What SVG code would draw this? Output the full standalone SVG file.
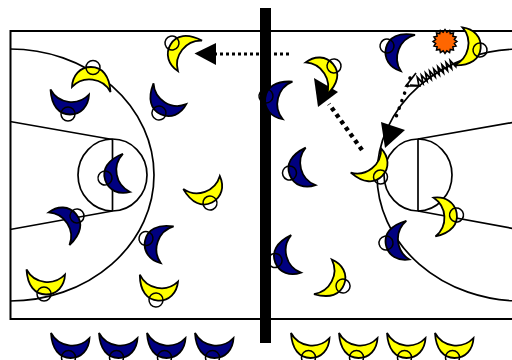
<svg xmlns="http://www.w3.org/2000/svg" xmlns:xlink="http://www.w3.org/1999/xlink" width="512" height="360" viewBox="0 0 512 360">
<style>
.court{fill:none;stroke:#000;stroke-width:2}
.line{fill:none;stroke:#000;stroke-width:1.7}
.navy{fill:#000080}
.yellow{fill:#ffff00}
.body{stroke:#000;stroke-width:1.8;stroke-linejoin:miter}
.head{fill:none;stroke:#000;stroke-width:1.5}
.dots{fill:none;stroke:#000}
</style>
<defs>
<g id="player">
<path class="body" d="M-17.500,-24.500 C-16.500,-8 -9,0.500 2,0.500 C13,0.500 20.500,-8 21,-19.500 A24,24 0 0 1 -17.500,-24.500 Z"/>
<circle class="head" r="7"/>
</g>
</defs>
<rect width="512" height="360" fill="#fff"/>
<g id="court">
<rect class="court" x="10.5" y="31" width="520" height="288"/>
<path class="line" d="M10,49 A144,126 0 0 1 10,301"/>
<path class="line" d="M10,121.5 L112.5,139.5 M10,229.5 L112.5,211"/>
<ellipse class="line" cx="112.5" cy="175" rx="34.5" ry="36"/>
<path class="line" d="M112.5,139 V211"/>
<path class="line" d="M521,49 A144,126 0 0 0 521,301"/>
<path class="line" d="M521,121 L418,139 M521,230 L418,211"/>
<ellipse class="line" cx="418" cy="175" rx="34" ry="36"/>
<path class="line" d="M418,139 V211"/>
</g>
<rect id="net" x="260" y="8" width="11" height="335" fill="#000"/>
<g id="connectors">
<path class="dots" stroke-width="3" stroke-dasharray="3 3" d="M289,54 H216"/>
<path d="M194.500,53.500 L216,43 V65 Z" fill="#000"/>
<path class="dots" stroke-width="4.500" stroke-dasharray="4 4" d="M362,150 L329,104"/>
<path d="M314,78 L338,92 L318,107 Z" fill="#000"/>
<path class="line" d="M456,62 L455.800,66.600 L450.100,60.500 L451.700,68.700 L446,62.600 L447.600,70.800 L441.900,64.700 L443.500,72.900 L437.800,66.800 L439.400,75 L433.700,68.900 L435.300,77.100 L429.600,71 L431.200,79.200 L425.500,73.100 L427.100,81.300 L421.400,75.200 L423,83.400 L417.300,77.300 L418.900,85.500 L410,85"/>
<path class="line" d="M416,73 L406,86 L421,86"/>
<path class="dots" stroke-width="3.500" stroke-linecap="round" stroke-dasharray="0.1 7.900" d="M410,78 L395,120"/>
<path d="M381,122 L405,130 L385,148 Z" fill="#000"/>
</g>
<g id="ball"><polygon transform="translate(445,41.500)" fill="#ff6600" stroke="#000" stroke-width="1.500" points="12,0 9.32,1.85 11.09,4.59 7.9,5.28 8.49,8.49 5.28,7.9 4.59,11.09 1.85,9.32 0,12 -1.85,9.32 -4.59,11.09 -5.28,7.9 -8.49,8.49 -7.9,5.28 -11.09,4.59 -9.32,1.85 -12,0 -9.32,-1.85 -11.09,-4.59 -7.9,-5.28 -8.49,-8.49 -5.28,-7.9 -4.59,-11.09 -1.85,-9.32 0,-12 1.85,-9.32 4.59,-11.09 5.28,-7.9 8.49,-8.49 7.9,-5.28 11.09,-4.59 9.32,-1.85"/></g>
<g id="n1" class="navy"><use xlink:href="#player" transform="translate(68,114)"/></g>
<g id="n2" class="navy"><use xlink:href="#player" transform="translate(159,113) rotate(25)"/></g>
<g id="n3" class="navy"><use xlink:href="#player" transform="translate(105,178) rotate(72)"/></g>
<g id="n4" class="navy"><use xlink:href="#player" transform="translate(77,216) rotate(-130)"/></g>
<g id="n5" class="navy"><use xlink:href="#player" transform="translate(146,238.500) rotate(102)"/></g>
<g id="y1" class="yellow"><use xlink:href="#player" transform="translate(93,67.500) rotate(180)"/></g>
<g id="y2" class="yellow"><use xlink:href="#player" transform="translate(172,43) rotate(121)"/></g>
<g id="y3" class="yellow"><use xlink:href="#player" transform="translate(210,203) rotate(-27)"/></g>
<g id="y4" class="yellow"><use xlink:href="#player" transform="translate(44,294)"/></g>
<g id="y5" class="yellow"><use xlink:href="#player" transform="translate(156,300) rotate(3)"/></g>
<g id="n6" class="navy"><use xlink:href="#player" transform="translate(266,96) rotate(97)"/></g>
<g id="n7" class="navy"><use xlink:href="#player" transform="translate(289.500,173) rotate(68)"/></g>
<g id="n8" class="navy"><use xlink:href="#player" transform="translate(275,260.500) rotate(68)"/></g>
<g id="n9" class="navy"><use xlink:href="#player" transform="translate(386,243) rotate(78)"/></g>
<g id="n10" class="navy"><use xlink:href="#player" transform="translate(387,46) rotate(104)"/></g>
<g id="y6" class="yellow"><use xlink:href="#player" transform="translate(334,66) rotate(-130)"/></g>
<g id="y7" class="yellow"><use xlink:href="#player" transform="translate(380.500,177) rotate(-46)"/></g>
<g id="y8" class="yellow"><use xlink:href="#player" transform="translate(480,50) rotate(-85)"/></g>
<g id="y9" class="yellow"><use xlink:href="#player" transform="translate(456.500,215) rotate(-100)"/></g>
<g id="y10" class="yellow"><use xlink:href="#player" transform="translate(343,286) rotate(-70)"/></g>
<g id="b1" class="navy"><use xlink:href="#player" transform="translate(68.500,357.500)"/></g>
<g id="b2" class="navy"><use xlink:href="#player" transform="translate(116.500,357.500)"/></g>
<g id="b3" class="navy"><use xlink:href="#player" transform="translate(164.500,357.500)"/></g>
<g id="b4" class="navy"><use xlink:href="#player" transform="translate(212.500,357.500)"/></g>
<g id="b5" class="yellow"><use xlink:href="#player" transform="translate(308.500,357.500)"/></g>
<g id="b6" class="yellow"><use xlink:href="#player" transform="translate(356.500,357.500)"/></g>
<g id="b7" class="yellow"><use xlink:href="#player" transform="translate(404.500,357.500)"/></g>
<g id="b8" class="yellow"><use xlink:href="#player" transform="translate(452.500,357.500)"/></g>
</svg>
